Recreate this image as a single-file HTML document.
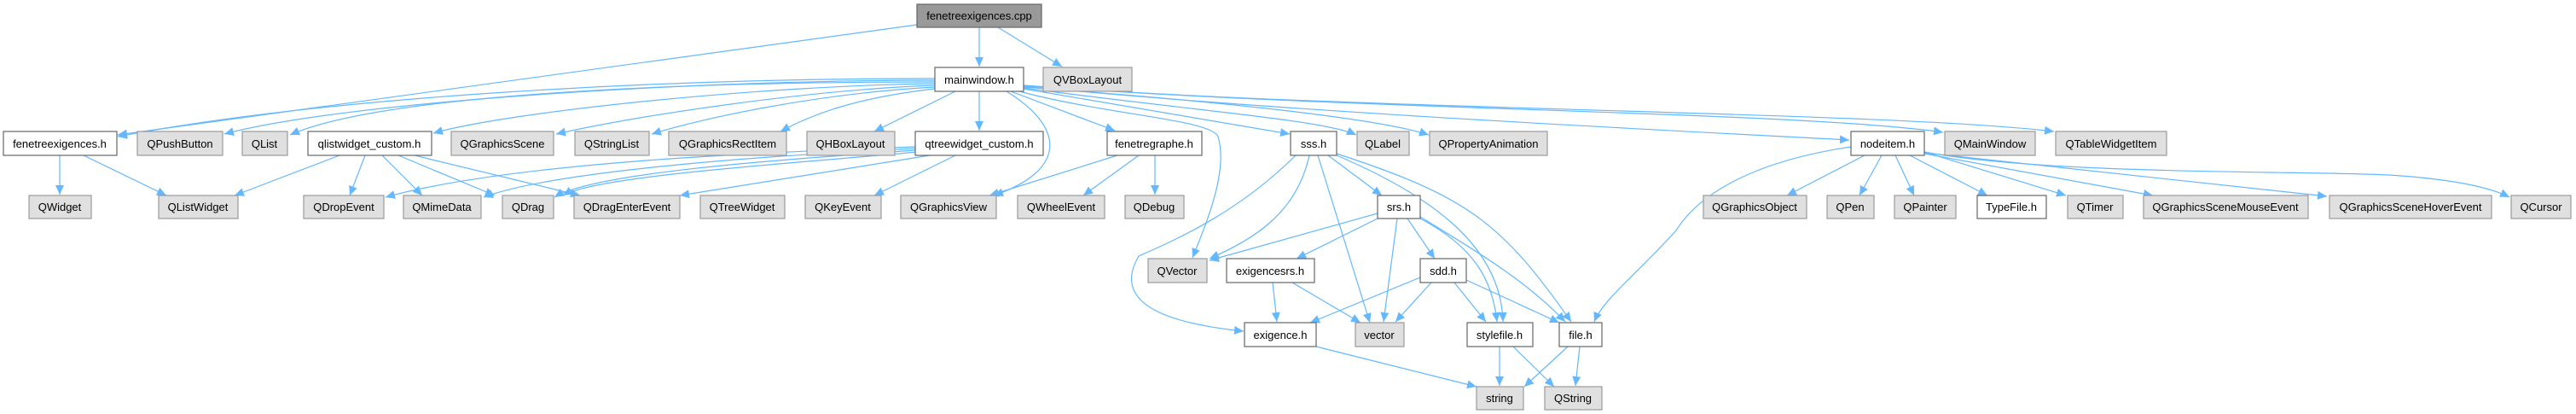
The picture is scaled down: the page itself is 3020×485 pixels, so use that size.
<!DOCTYPE html>
<html><head><meta charset="utf-8"><style>
html,body{margin:0;padding:0;background:#fff;}
svg{display:block;}
text{font-family:"Liberation Sans",Arial,sans-serif;font-size:13px;fill:#000;text-anchor:middle;}
.w{fill:#fff;stroke:#666;stroke-width:1.2;}
.g{fill:#e0e0e0;stroke:#999;stroke-width:1.2;}
.r{fill:#999;stroke:#666;stroke-width:1.2;}
path.e{fill:none;stroke:#63b8ff;stroke-width:1.2;marker-end:url(#a);}
</style></head><body>
<svg width="3020" height="485" viewBox="0 0 3020 485" xmlns="http://www.w3.org/2000/svg">
<defs><marker id="a" markerUnits="userSpaceOnUse" markerWidth="12" markerHeight="10" refX="11" refY="5" orient="auto"><path d="M0,0 L11,5 L0,10 z" fill="#63b8ff"/></marker></defs>
<g>
<!-- root edges -->
<path class="e" d="M1075,29 L138,158"/>
<path class="e" d="M1148,32 L1148,78"/>
<path class="e" d="M1170,32 L1245,78"/>
<!-- mainwindow edges -->
<path class="e" d="M1096,92 C800,92 400,110 138,160"/>
<path class="e" d="M1096,94 C800,94 400,120 263,157"/>
<path class="e" d="M1096,96 C800,96 450,110 340,158"/>
<path class="e" d="M1096,98 C900,100 600,130 508,156"/>
<path class="e" d="M1096,100 C950,105 750,135 652,157"/>
<path class="e" d="M1096,102 C950,110 820,140 764,157"/>
<path class="e" d="M1096,104 C1000,115 950,135 915,154"/>
<path class="e" d="M1120,107 L1025,154"/>
<path class="e" d="M1148,107 L1148,153"/>
<path class="e" d="M1180,107 C1250,150 1250,200 1165,229"/>
<path class="e" d="M1185,107 L1307,153"/>
<path class="e" d="M1195,107 C1300,135 1420,140 1428,160 C1440,200 1415,260 1398,302"/>
<path class="e" d="M1200,104 L1512,157"/>
<path class="e" d="M1200,103 C1400,130 1550,140 1590,158"/>
<path class="e" d="M1200,102 C1450,120 1620,140 1675,158"/>
<path class="e" d="M1200,101 C1500,130 1900,150 2168,164"/>
<path class="e" d="M1200,100 C1600,130 2100,130 2278,155"/>
<path class="e" d="M1200,100 C1600,130 2200,130 2408,154"/>
<!-- fenetreexigences.h -->
<path class="e" d="M70,182 L70,228"/>
<path class="e" d="M98,182 L195,229"/>
<!-- qlistwidget_custom -->
<path class="e" d="M398,182 L275,229"/>
<path class="e" d="M428,182 L410,229"/>
<path class="e" d="M448,182 L495,229"/>
<path class="e" d="M467,182 L580,229"/>
<path class="e" d="M486,182 L680,229"/>
<!-- qtreewidget_custom -->
<path class="e" d="M1073,172 C900,178 600,190 452,231"/>
<path class="e" d="M1073,174 C900,182 650,200 567,231"/>
<path class="e" d="M1073,176 C950,185 700,200 650,231"/>
<path class="e" d="M1075,178 C950,190 700,205 660,229"/>
<path class="e" d="M1090,182 L797,229"/>
<path class="e" d="M1120,182 L1025,229"/>
<!-- tenetregraphe -->
<path class="e" d="M1310,182 L1160,229"/>
<path class="e" d="M1335,182 L1270,229"/>
<path class="e" d="M1354,182 L1354,228"/>
<!-- sss.h -->
<path class="e" d="M1519,182 C1450,250 1380,280 1335,300 C1300,360 1380,380 1458,388"/>
<path class="e" d="M1535,182 C1520,250 1470,280 1418,303"/>
<path class="e" d="M1545,182 L1606,378"/>
<path class="e" d="M1557,182 L1620,229"/>
<path class="e" d="M1567,182 C1680,230 1760,290 1762,377"/>
<path class="e" d="M1567,180 C1720,230 1760,260 1842,377"/>
<!-- srs.h -->
<path class="e" d="M1615,250 L1418,305"/>
<path class="e" d="M1615,256 L1520,303"/>
<path class="e" d="M1638,256 L1622,377"/>
<path class="e" d="M1650,256 L1682,303"/>
<path class="e" d="M1665,256 C1730,290 1750,330 1755,377"/>
<path class="e" d="M1665,254 C1740,300 1790,330 1835,377"/>
<!-- exigencesrs -->
<path class="e" d="M1492,331 L1497,377"/>
<path class="e" d="M1515,331 L1595,378"/>
<!-- sdd -->
<path class="e" d="M1665,325 L1536,378"/>
<path class="e" d="M1678,331 L1636,377"/>
<path class="e" d="M1705,331 L1742,377"/>
<path class="e" d="M1719,328 L1828,378"/>
<!-- bottom -->
<path class="e" d="M1543,406 L1731,453"/>
<path class="e" d="M1758,406 L1758,452"/>
<path class="e" d="M1774,406 L1822,453"/>
<path class="e" d="M1838,406 L1787,453"/>
<path class="e" d="M1852,406 L1847,452"/>
<!-- nodeitem -->
<path class="e" d="M2170,172 C2050,190 1990,230 1965,270 C1920,320 1880,350 1869,377"/>
<path class="e" d="M2186,182 L2095,229"/>
<path class="e" d="M2206,182 L2180,229"/>
<path class="e" d="M2222,182 L2244,229"/>
<path class="e" d="M2239,182 L2330,229"/>
<path class="e" d="M2256,178 L2422,229"/>
<path class="e" d="M2256,180 L2524,229"/>
<path class="e" d="M2256,179 L2728,230"/>
<path class="e" d="M2256,178 C2400,205 2700,200 2800,205 C2880,210 2920,220 2942,231"/>
</g>
<g>
<rect class="r" x="1075" y="5" width="146" height="27"/><text x="1148" y="23">fenetreexigences.cpp</text>
<rect class="w" x="1096" y="79" width="104" height="28"/><text x="1148" y="98">mainwindow.h</text>
<rect class="g" x="1223" y="79" width="104" height="28"/><text x="1275" y="98">QVBoxLayout</text>

<rect class="w" x="4" y="154" width="133" height="28"/><text x="70" y="173">fenetreexigences.h</text>
<rect class="g" x="161" y="154" width="100" height="28"/><text x="211" y="173">QPushButton</text>
<rect class="g" x="284" y="154" width="53" height="28"/><text x="310" y="173">QList</text>
<rect class="w" x="361" y="154" width="145" height="28"/><text x="433" y="173">qlistwidget_custom.h</text>
<rect class="g" x="529" y="154" width="120" height="28"/><text x="589" y="173">QGraphicsScene</text>
<rect class="g" x="674" y="154" width="87" height="28"/><text x="717" y="173">QStringList</text>
<rect class="g" x="784" y="154" width="138" height="28"/><text x="853" y="173">QGraphicsRectItem</text>
<rect class="g" x="946" y="154" width="103" height="28"/><text x="997" y="173">QHBoxLayout</text>
<rect class="w" x="1073" y="154" width="150" height="28"/><text x="1148" y="173">qtreewidget_custom.h</text>
<rect class="w" x="1298" y="154" width="111" height="28"/><text x="1353" y="173">fenetregraphe.h</text>
<rect class="w" x="1513" y="154" width="54" height="28"/><text x="1540" y="173">sss.h</text>
<rect class="g" x="1591" y="154" width="61" height="28"/><text x="1621" y="173">QLabel</text>
<rect class="g" x="1676" y="154" width="138" height="28"/><text x="1745" y="173">QPropertyAnimation</text>
<rect class="w" x="2170" y="154" width="86" height="28"/><text x="2213" y="173">nodeitem.h</text>
<rect class="g" x="2280" y="154" width="106" height="28"/><text x="2333" y="173">QMainWindow</text>
<rect class="g" x="2410" y="154" width="130" height="28"/><text x="2475" y="173">QTableWidgetItem</text>

<rect class="g" x="34" y="229" width="73" height="27"/><text x="70" y="247">QWidget</text>
<rect class="g" x="186" y="229" width="93" height="27"/><text x="232" y="247">QListWidget</text>
<rect class="g" x="356" y="229" width="94" height="27"/><text x="403" y="247">QDropEvent</text>
<rect class="g" x="473" y="229" width="91" height="27"/><text x="518" y="247">QMimeData</text>
<rect class="g" x="589" y="229" width="60" height="27"/><text x="619" y="247">QDrag</text>
<rect class="g" x="673" y="229" width="124" height="27"/><text x="735" y="247">QDragEnterEvent</text>
<rect class="g" x="821" y="229" width="99" height="27"/><text x="870" y="247">QTreeWidget</text>
<rect class="g" x="944" y="229" width="89" height="27"/><text x="988" y="247">QKeyEvent</text>
<rect class="g" x="1056" y="229" width="112" height="27"/><text x="1112" y="247">QGraphicsView</text>
<rect class="g" x="1193" y="229" width="102" height="27"/><text x="1244" y="247">QWheelEvent</text>
<rect class="g" x="1319" y="229" width="69" height="27"/><text x="1353" y="247">QDebug</text>
<rect class="w" x="1615" y="229" width="50" height="27"/><text x="1640" y="247">srs.h</text>
<rect class="g" x="1997" y="229" width="121" height="27"/><text x="2057" y="247">QGraphicsObject</text>
<rect class="g" x="2142" y="229" width="55" height="27"/><text x="2169" y="247">QPen</text>
<rect class="g" x="2221" y="229" width="72" height="27"/><text x="2257" y="247">QPainter</text>
<rect class="w" x="2318" y="229" width="81" height="27"/><text x="2358" y="247">TypeFile.h</text>
<rect class="g" x="2424" y="229" width="65" height="27"/><text x="2456" y="247">QTimer</text>
<rect class="g" x="2513" y="229" width="193" height="27"/><text x="2609" y="247">QGraphicsSceneMouseEvent</text>
<rect class="g" x="2731" y="229" width="190" height="27"/><text x="2826" y="247">QGraphicsSceneHoverEvent</text>
<rect class="g" x="2944" y="229" width="70" height="27"/><text x="2979" y="247">QCursor</text>

<rect class="g" x="1346" y="303" width="69" height="28"/><text x="1380" y="322">QVector</text>
<rect class="w" x="1438" y="303" width="103" height="28"/><text x="1489" y="322">exigencesrs.h</text>
<rect class="w" x="1665" y="303" width="54" height="28"/><text x="1692" y="322">sdd.h</text>

<rect class="w" x="1459" y="378" width="84" height="28"/><text x="1501" y="397">exigence.h</text>
<rect class="g" x="1589" y="378" width="57" height="28"/><text x="1617" y="397">vector</text>
<rect class="w" x="1720" y="378" width="77" height="28"/><text x="1758" y="397">stylefile.h</text>
<rect class="w" x="1828" y="378" width="50" height="28"/><text x="1853" y="397">file.h</text>

<rect class="g" x="1731" y="453" width="55" height="27"/><text x="1758" y="471">string</text>
<rect class="g" x="1811" y="453" width="67" height="27"/><text x="1844" y="471">QString</text>
</g>
</svg>
</body></html>
